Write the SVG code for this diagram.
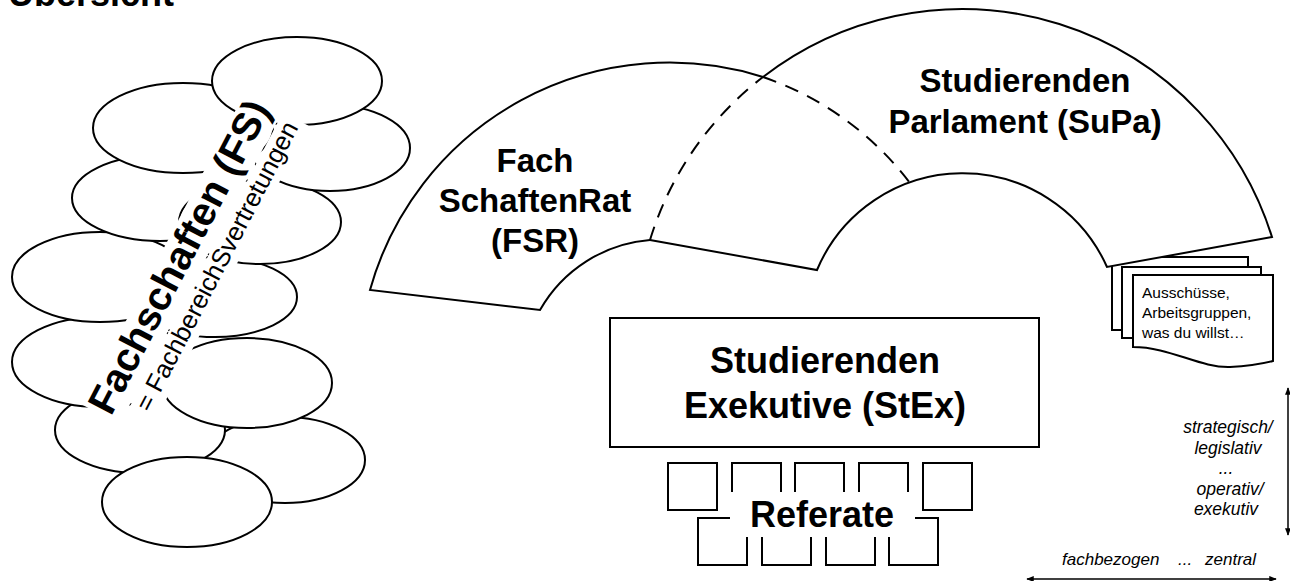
<svg xmlns="http://www.w3.org/2000/svg" width="1290" height="581" viewBox="0 0 1290 581">
<defs>
<marker id="arr" viewBox="0 0 10 10" refX="9" refY="5" markerWidth="5" markerHeight="5" orient="auto-start-reverse"><path d="M0,1 L10,5 L0,9 Z" fill="#000"/></marker>
</defs>
<style>
.e{fill:#fff;stroke:#000;stroke-width:2}
.s{fill:none;stroke:#000;stroke-width:2}
.d{fill:none;stroke:#000;stroke-width:2;stroke-dasharray:14 10}
.w{fill:#fff;stroke:none}
.b{font-family:"Liberation Sans",Arial,sans-serif;font-weight:bold;fill:#000}
.r{font-family:"Liberation Sans",Arial,sans-serif;fill:#000}
.i{font-family:"Liberation Sans",Arial,sans-serif;font-style:italic;fill:#000}
.a{fill:none;stroke:#000;stroke-width:1.5}
</style>
<rect width="1290" height="581" fill="#fff"/>
<text class="b" x="8" y="6" font-size="36">Übersicht</text>

<g id="fachschaften">
<ellipse class="e" cx="285" cy="460" rx="80" ry="43"/>
<ellipse class="e" cx="140" cy="430" rx="85" ry="43"/>
<ellipse class="e" cx="215" cy="297" rx="82" ry="40"/>
<ellipse class="e" cx="100" cy="362" rx="88" ry="45"/>
<ellipse class="e" cx="100" cy="277" rx="88" ry="45"/>
<ellipse class="e" cx="160" cy="198" rx="88" ry="43"/>
<ellipse class="e" cx="260" cy="222" rx="81" ry="42"/>
<ellipse class="e" cx="330" cy="148" rx="80" ry="43"/>
<ellipse class="e" cx="183" cy="128" rx="90" ry="45"/>
<ellipse class="e" cx="297" cy="81" rx="85" ry="44"/>
<ellipse class="e" cx="247" cy="383" rx="85" ry="45"/>
<ellipse class="e" cx="187" cy="502" rx="85" ry="45"/>
<g transform="translate(191,263) rotate(-62.5)">
<rect class="w" x="-176" y="-31" width="352" height="42"/>
<rect class="w" x="-158" y="12" width="334" height="29"/>
<text class="b" x="0" y="0" font-size="40" text-anchor="middle">Fachschaften (FS)</text>
<text class="r" x="9" y="33" font-size="25.5" text-anchor="middle">= FachbereichSvertretungen</text>
</g>
</g>

<g id="gremien">
<path class="e" d="M1112,330 V257 H1248 V330 Z"/>
<path class="e" d="M1122,338 V267 H1261 V338 Z"/>
<path class="e" d="M1133,347 V275 H1273 V361 C1265,363 1250,366 1230,367 C1200,368 1170,347 1133,347 Z"/>
<text class="r" font-size="15.5"><tspan x="1142" y="298">Ausschüsse,</tspan><tspan x="1142" y="318">Arbeitsgruppen,</tspan><tspan x="1142" y="338">was du willst…</tspan></text>
</g>

<g id="supa">
<path class="w" d="M650,240 A325,325 0 0 1 1272,237 L1107,267 A158,158 0 0 0 817,270 Z"/>
<path class="d" d="M650,240 A325,325 0 0 1 763,77"/>
<path class="s" d="M763,77 A325,325 0 0 1 1272,237 L1107,267 A158,158 0 0 0 817,270 L650,240"/>
<text class="b" font-size="33" text-anchor="middle"><tspan x="1025" y="92">Studierenden</tspan><tspan x="1025" y="133">Parlament (SuPa)</tspan></text>
</g>

<g id="fsr">
<path class="s" d="M763,77 A311,311 0 0 0 370,290 L540,310 A139,139 0 0 1 650,240"/>
<path class="d" d="M763,77 A311,311 0 0 1 913,187"/>
<text class="b" font-size="33" text-anchor="middle"><tspan x="535" y="172">Fach</tspan><tspan x="535" y="212">SchaftenRat</tspan><tspan x="535" y="252">(FSR)</tspan></text>
</g>

<g id="stex">
<rect class="e" x="610" y="318" width="429" height="129"/>
<text class="b" font-size="36" text-anchor="middle"><tspan x="825" y="373">Studierenden</tspan><tspan x="825" y="418">Exekutive (StEx)</tspan></text>
</g>

<g id="referate">
<rect class="e" x="668" y="463" width="49" height="47"/>
<rect class="e" x="732" y="463" width="49" height="47"/>
<rect class="e" x="795" y="463" width="49" height="47"/>
<rect class="e" x="859" y="463" width="49" height="47"/>
<rect class="e" x="923" y="463" width="49" height="47"/>
<rect class="e" x="698" y="518" width="49" height="47"/>
<rect class="e" x="762" y="518" width="49" height="47"/>
<rect class="e" x="826" y="518" width="49" height="47"/>
<rect class="e" x="889" y="518" width="49" height="47"/>
<rect class="w" x="730" y="492" width="185" height="45"/>
<text class="b" x="822" y="527" font-size="36" text-anchor="middle">Referate</text>
</g>

<g id="achsen">
<text class="i" font-size="17.5" text-anchor="middle"><tspan x="1228" y="433">strategisch/</tspan><tspan x="1228" y="453.5">legislativ</tspan><tspan x="1226" y="474">...</tspan><tspan x="1230" y="494.5">operativ/</tspan><tspan x="1226" y="515">exekutiv</tspan></text>
<text class="i" x="1062" y="565" font-size="17">fachbezogen</text>
<text class="i" x="1178" y="565" font-size="17">...</text>
<text class="i" x="1205" y="565" font-size="17">zentral</text>
</g>

<g id="connectors">
<line class="a" x1="1288" y1="388" x2="1288" y2="535" marker-start="url(#arr)" marker-end="url(#arr)"/>
<line class="a" x1="1027" y1="579" x2="1276" y2="579" marker-start="url(#arr)" marker-end="url(#arr)"/>
</g>
</svg>
